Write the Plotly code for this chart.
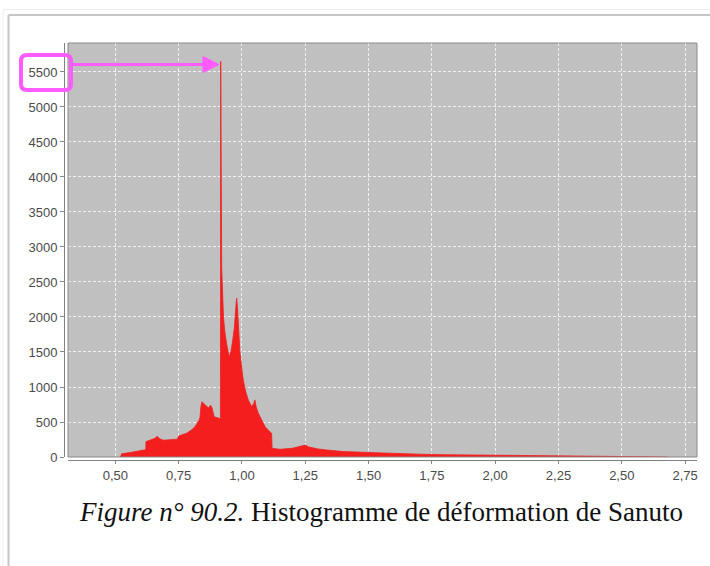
import plotly.graph_objects as go

# ---- data ----
deformation = [0.520, 0.525, 0.560, 0.600, 0.620, 0.621, 0.640, 0.655, 0.666, 0.675,
               0.690, 0.720, 0.745, 0.750, 0.782, 0.800, 0.814, 0.830, 0.834, 0.838,
               0.842, 0.850, 0.860, 0.868, 0.876, 0.882, 0.890, 0.900, 0.913, 0.915,
               0.916, 0.918, 0.920, 0.923, 0.927, 0.932, 0.940, 0.950, 0.957, 0.963,
               0.970, 0.976, 0.979, 0.982, 0.985, 0.992, 1.000, 1.005, 1.015, 1.025,
               1.038, 1.046, 1.051, 1.056, 1.064, 1.078, 1.091, 1.105, 1.117, 1.119,
               1.150, 1.200, 1.235, 1.250, 1.262, 1.300, 1.335, 1.400, 1.500, 1.600,
               1.700, 1.800, 2.000, 2.250, 2.500, 2.680, 2.682]
counts = [0, 45, 65, 85, 105, 220, 240, 265, 295, 260,
          240, 245, 255, 300, 340, 385, 430, 520, 560, 720,
          790, 760, 730, 700, 740, 700, 575, 560, 550, 560,
          5650, 4100, 2700, 2300, 2000, 1800, 1600, 1430, 1520, 1650,
          1850, 2150, 2270, 2150, 1950, 1500, 1250, 1100, 930, 815,
          720, 760, 815, 720, 630, 520, 435, 380, 340, 125,
          110, 125, 150, 170, 145, 115, 100, 78, 65, 50,
          40, 33, 25, 18, 12, 8, 0]

x_tickvals = [0.50, 0.75, 1.00, 1.25, 1.50, 1.75, 2.00, 2.25, 2.50, 2.75]
x_ticktext = ["0,50", "0,75", "1,00", "1,25", "1,50", "1,75", "2,00", "2,25", "2,50", "2,75"]
y_tickvals = [0, 500, 1000, 1500, 2000, 2500, 3000, 3500, 4000, 4500, 5000, 5500]
y_ticktext = [str(v) for v in y_tickvals]

caption = "<i>Figure n° 90.2.</i> Histogramme de déformation de Sanuto"

# ---- layout geometry (pixels) ----
W, H = 710, 566
ML, MR, MT, MB = 64, 13, 43, 106
PW, PH = W - ML - MR, H - MT - MB


def px(x):
    return (x - ML) / PW


def py(y):
    return (H - MB - y) / PH


fig = go.Figure()
fig.add_trace(go.Scatter(
    x=deformation, y=counts, mode="lines",
    line=dict(color="rgb(240,30,30)", width=0.8),
    fill="tozeroy", fillcolor="rgb(245,30,30)",
    hoverinfo="x+y", showlegend=False,
))

axis_font = dict(family="Liberation Sans, Arial, sans-serif", size=13, color="#4a4a4a")
fig.update_layout(
    width=W, height=H,
    margin=dict(l=ML, r=MR, t=MT, b=MB, pad=0),
    paper_bgcolor="white",
    plot_bgcolor="#c0c0c0",
    showlegend=False,
    xaxis=dict(
        domain=[4 / PW, 1], range=[0.313, 2.797],
        anchor="free", position=0,
        tickvals=x_tickvals, ticktext=x_ticktext,
        tickfont=axis_font, ticks="outside", ticklen=3, tickcolor="#888",
        showline=True, linecolor="#808080", linewidth=1,
        showgrid=True, gridcolor="rgba(245,245,245,0.9)", gridwidth=1, griddash="3px,2px",
        zeroline=False,
    ),
    yaxis=dict(
        domain=[3 / PH, 1], range=[0, 5914],
        anchor="free", position=0,
        tickvals=y_tickvals, ticktext=y_ticktext,
        tickfont=axis_font, ticks="outside", ticklen=4, tickcolor="#888",
        showline=True, linecolor="#808080", linewidth=1,
        showgrid=True, gridcolor="rgba(245,245,245,0.9)", gridwidth=1, griddash="3px,2px",
        zeroline=False,
    ),
)

shapes = []
# plot-area border
shapes.append(dict(type="rect", xref="x domain", yref="y domain", x0=0, x1=1, y0=0, y1=1,
                   line=dict(color="#8a8a8a", width=1), layer="above"))
# page frame
shapes.append(dict(type="line", xref="paper", yref="paper", x0=px(3), x1=px(W + 5), y0=py(9.5), y1=py(9.5),
                   line=dict(color="#eeeeee", width=1)))
shapes.append(dict(type="line", xref="paper", yref="paper", x0=px(3), x1=px(3), y0=py(9.5), y1=py(H + 5),
                   line=dict(color="#eeeeee", width=1)))
shapes.append(dict(type="line", xref="paper", yref="paper", x0=px(8.5), x1=px(W + 5), y0=py(15), y1=py(15),
                   line=dict(color="#c6c6c6", width=2)))
shapes.append(dict(type="line", xref="paper", yref="paper", x0=px(8.5), x1=px(8.5), y0=py(15), y1=py(H + 5),
                   line=dict(color="#c6c6c6", width=2)))

# magenta rounded box around the 5500 label
mag = "#ff5cff"
x0, x1, y0, y1, r = 21, 71, 55, 90, 6
path = (f"M {px(x0 + r)},{py(y0)} L {px(x1 - r)},{py(y0)} Q {px(x1)},{py(y0)} {px(x1)},{py(y0 + r)} "
        f"L {px(x1)},{py(y1 - r)} Q {px(x1)},{py(y1)} {px(x1 - r)},{py(y1)} "
        f"L {px(x0 + r)},{py(y1)} Q {px(x0)},{py(y1)} {px(x0)},{py(y1 - r)} "
        f"L {px(x0)},{py(y0 + r)} Q {px(x0)},{py(y0)} {px(x0 + r)},{py(y0)} Z")
shapes.append(dict(type="path", xref="paper", yref="paper", path=path,
                   line=dict(color=mag, width=4), layer="above"))
# arrow
shapes.append(dict(type="line", xref="paper", yref="paper", x0=px(71), x1=px(205), y0=py(64.5), y1=py(64.5),
                   line=dict(color=mag, width=3), layer="above"))
tri = f"M {px(203)},{py(56.5)} L {px(219)},{py(64.5)} L {px(203)},{py(72.5)} Z"
shapes.append(dict(type="path", xref="paper", yref="paper", path=tri,
                   line=dict(color=mag, width=1), fillcolor=mag, layer="above"))
fig.update_layout(shapes=shapes)

fig.add_annotation(
    xref="paper", yref="paper", x=px(381), y=py(512), xanchor="center", yanchor="middle",
    text=caption, showarrow=False,
    font=dict(family="Liberation Serif, Times New Roman, serif", size=27, color="#111"),
)

fig.write_html("out.html", config={"displayModeBar": False},
               post_script="document.body.style.margin='0';")
